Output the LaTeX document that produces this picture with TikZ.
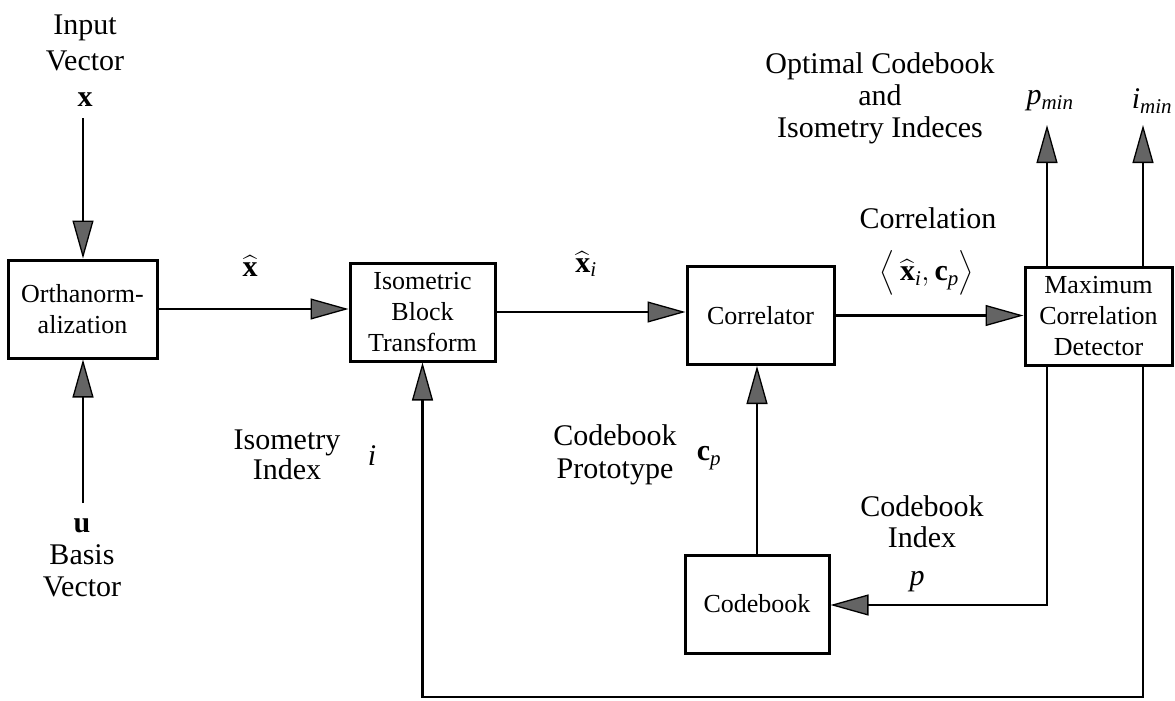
\documentclass[tikz,border=0pt]{standalone}
\usepackage{fix-cm}
\usepackage{amsmath}
\usepackage{fontspec}
\setmainfont{Liberation Serif}
\usetikzlibrary{arrows.meta}
\definecolor{tipgray}{RGB}{100,100,100}
\newcommand{\bx}{\widehat{\text{\bfseries x}}}
\newcommand{\bc}{\text{\bfseries c}}
\newcommand{\itx}[1]{\text{\itshape #1}}
\begin{document}
\begin{tikzpicture}[x=1pt,y=-1pt,
  block/.style={draw,line width=3pt,minimum width=#1,minimum height=98pt,
    align=center,inner sep=0pt,font=\fontsize{26}{31}\selectfont},
  block/.default=146pt,
  conn/.style={line width=2.6pt},
  flow/.style={conn,-{Triangle[length=38pt,width=21pt,fill=tipgray,line width=1.3pt]}},
  lbl/.style={align=center,inner sep=0pt,font=\fontsize{30}{33}\selectfont}]
\useasboundingbox (0,0) rectangle (1175,701);

% blocks
\node[block=149pt] (ortho) at (82.5,309) {Orthanorm-\\alization};
\node[block=145pt] (iso)   at (422.5,312) {Isometric\\Block\\Transform};
\node[block=147pt] (corr)  at (760.5,315.5) {Correlator};
\node[block=147pt] (mcd)   at (1098.5,316.5) {Maximum\\Correlation\\Detector};
\node[block=144pt] (cb)    at (757,604) {Codebook};

% free ends of the signal lines
\coordinate (xin) at (83,118);
\coordinate (uin) at (83,503);
\coordinate (pout) at (1047,125);
\coordinate (iout) at (1143,125);
\coordinate (pdown) at (1047,605);
\coordinate (idown) at (1143,697);
\coordinate (fbl) at (422.5,697);

% forward path
\draw[flow] (xin) -- (xin |- ortho.north);
\draw[flow] (uin) -- (uin |- ortho.south);
\draw[flow] (ortho.east) -- (ortho.east -| iso.west);
\draw[flow] (iso.east) -- (iso.east -| corr.west);
\draw[flow] (corr.east) -- (corr.east -| mcd.west);

% outputs of the detector
\draw[flow] (pout |- mcd.north) -- (pout);
\draw[flow] (iout |- mcd.north) -- (iout);

% codebook index and prototype loop
\draw[flow] (pdown |- mcd.south) -- (pdown) -- (pdown -| cb.east);
\draw[flow] (cb.north) -- (cb.north |- corr.south);

% isometry index feedback
\draw[flow] (idown |- mcd.south) -- (idown) -- (fbl) -- (iso.south);

% labels
\node[lbl,font=\fontsize{30}{36}\selectfont] (linput) at (85,61) {Input\\Vector\\$\text{\bfseries x}$};
\node[lbl,font=\fontsize{30}{32}\selectfont] (lbasis) at (82,558) {$\text{\bfseries u}$\\Basis\\Vector};
\node[lbl] (lxhat) at (250,266) {$\bx$};
\node[lbl] (lxhati) at (586,264) {$\bx_{\itx{i}}$};
\node[lbl,font=\fontsize{30}{30}\selectfont] (liso) at (287,455) {Isometry\\Index};
\node[lbl] (li) at (372,456) {$\itx{i}$};
\node[lbl,font=\fontsize{30}{33}\selectfont] (lproto) at (615,455) {Codebook\\Prototype};
\node[lbl] (lcp) at (709,458) {$\bc_{\itx{p}}$};
\node[lbl] (lcorr) at (928,218) {Correlation};
\node[lbl] (lip) at (927,273) {$\big\langle\,\bx_{\itx{i}},\bc_{\itx{p}}\big\rangle$};
\node[lbl,font=\fontsize{30}{32}\selectfont] (lopt) at (880,98) {Optimal Codebook\\and\\Isometry Indeces};
\node[lbl] (lpmin) at (1050,101) {\itshape p$_{\itx{min}}$};
\node[lbl] (limin) at (1152,101) {\itshape i$_{\itx{min}}$};
\node[lbl,font=\fontsize{30}{31}\selectfont] (lcbi) at (922,522) {Codebook\\Index};
\node[lbl] (lp) at (917,582) {\itshape p};
\end{tikzpicture}
\end{document}
